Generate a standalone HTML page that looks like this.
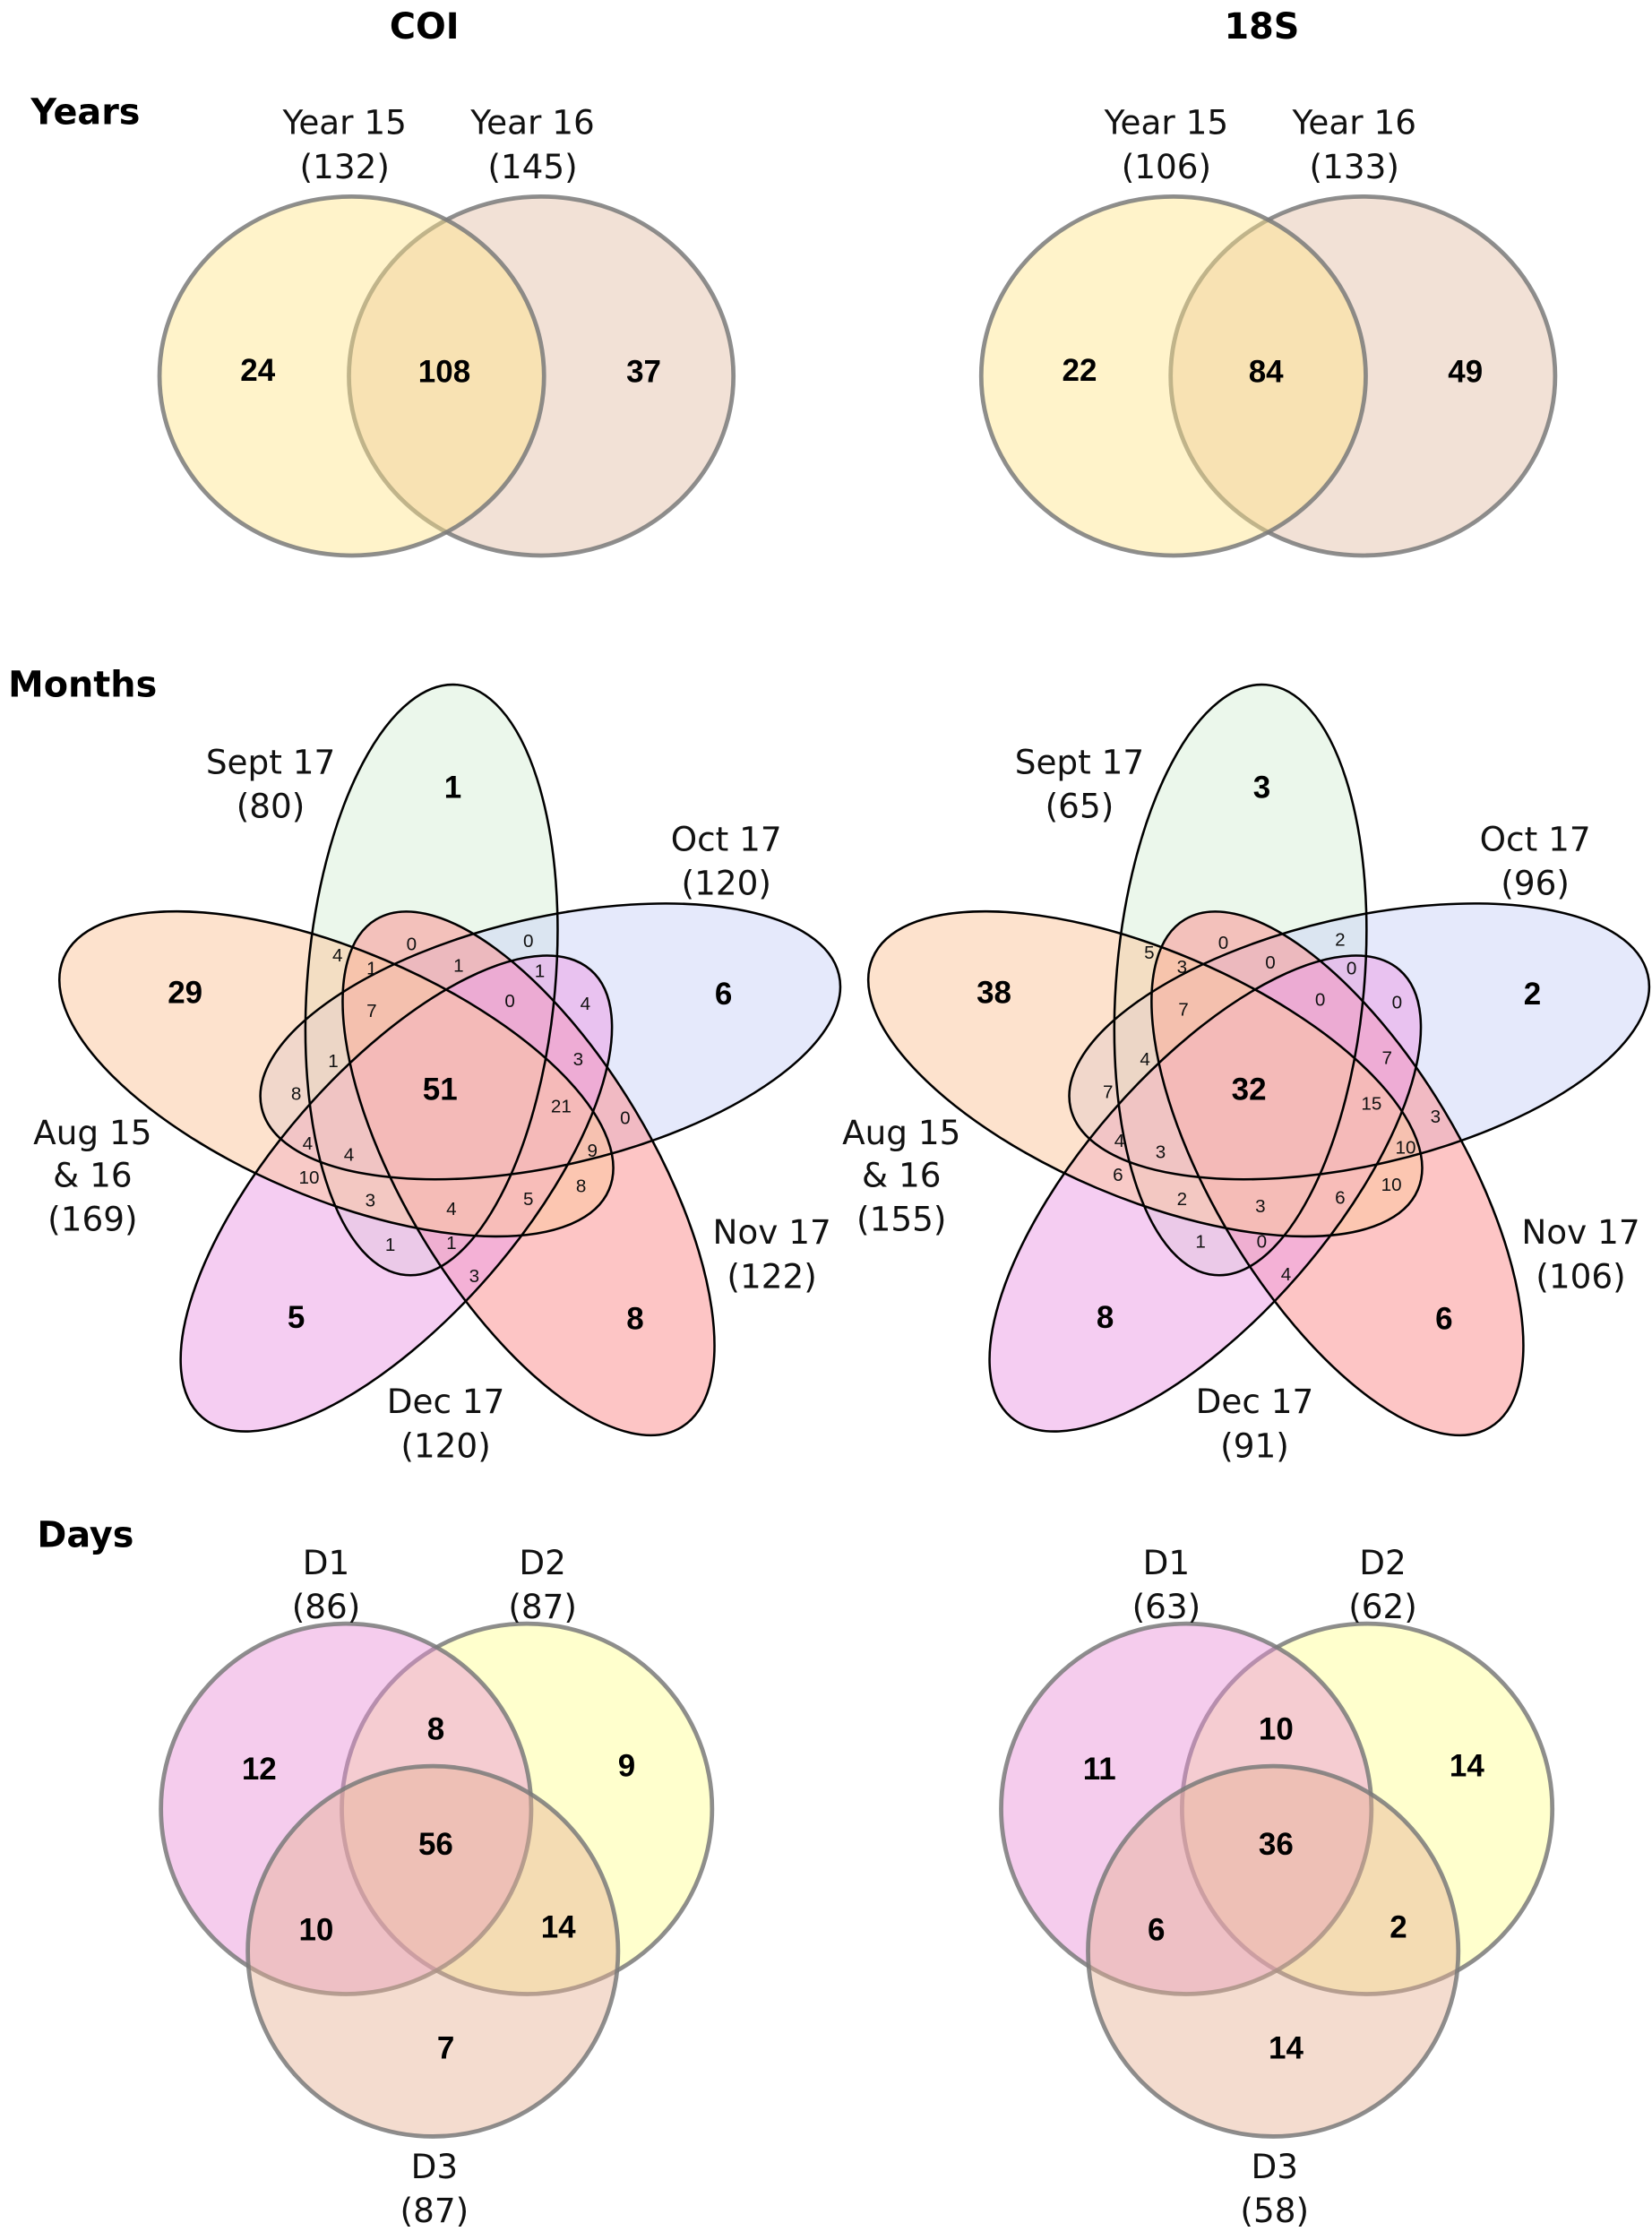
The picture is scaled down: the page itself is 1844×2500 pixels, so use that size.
<!DOCTYPE html>
<html><head><meta charset="utf-8"><style>
html,body{margin:0;padding:0;background:#fff}
svg{display:block}
.lab{font-family:"DejaVu Sans","Liberation Sans",sans-serif;font-size:23.5px;fill:#111}
.big{font-family:"Liberation Sans",sans-serif;font-weight:bold;font-size:22px;fill:#000}
.sm{font-family:"Liberation Sans",sans-serif;font-size:13px;fill:#111}
.title{font-family:"DejaVu Sans","Liberation Sans",sans-serif;font-weight:bold;font-size:25px;fill:#000}
</style></head><body>
<svg id="chart" width="1844" height="2500" viewBox="0 0 1160 1572.7" xmlns="http://www.w3.org/2000/svg">
<text class="title" x="298" y="27" text-anchor="middle">COI</text>
<text class="title" x="886" y="27" text-anchor="middle">18S</text>
<text class="title" x="60" y="87" text-anchor="middle">Years</text>
<text class="title" x="58" y="489" text-anchor="middle">Months</text>
<text class="title" x="60" y="1086" text-anchor="middle">Days</text>
<g id="layer"></g>
</svg>
<script>
// ---- data ----
const yearsCOI = [24, 108, 37];
const yearsCOITotals = [132, 145];
const years18S = [22, 84, 49];
const years18STotals = [106, 133];
const monthSets = ["Aug 15 & 16", "Sept 17", "Oct 17", "Nov 17", "Dec 17"];
const monthsCOITotals = [169, 80, 120, 122, 120];
const months18STotals = [155, 65, 96, 106, 91];
// outer unique regions: Sept, Aug, Oct, Dec, Nov
const monthsCOIOuter = [1, 29, 6, 5, 8];
const months18SOuter = [3, 38, 2, 8, 6];
const monthsCOICenter = [51];
const months18SCenter = [32];
const monthsCOIInner = [4,0,0,1,1,1,0,4,7,3,1,8,21,0,4,4,9,10,3,4,5,8,1,1,3];
const months18SInner = [5,0,2,3,0,0,0,0,7,7,4,7,15,3,4,3,10,6,2,3,6,10,1,0,4];
const daysCOI = [12, 8, 9, 56, 10, 14, 7];
const daysCOITotals = [86, 87, 87];
const days18S = [11, 10, 14, 36, 6, 2, 14];
const days18STotals = [63, 62, 58];

const NS="http://www.w3.org/2000/svg";
const layer=document.getElementById('layer');
function mk(tag,attrs,parent){const e=document.createElementNS(NS,tag);for(const k in attrs)e.setAttribute(k,attrs[k]);(parent||layer).appendChild(e);return e;}
function txt(cls,x,y,s,name,parent){const t=mk('text',{class:cls,x:x,y:y,'text-anchor':'middle','dominant-baseline':'central'},parent);t.textContent=s;


return t;}

// ---- Years ----
function years(dx,vals,tot,pfx){
  const g=mk('g',{transform:'translate('+dx+',0)'});
  
  
  const b=mk('ellipse',{cx:380,cy:264,rx:135,ry:126,fill:'#e3bca4','fill-opacity':0.45,stroke:'#7a7a7a','stroke-opacity':0.85,'stroke-width':3},g);
  
  
  const a=mk('ellipse',{cx:247,cy:264,rx:135,ry:126,fill:'#ffe48a','fill-opacity':0.45,stroke:'#7a7a7a','stroke-opacity':0.85,'stroke-width':3},g);
  
  
  txt('lab',242,86,'Year 15','year15-label',g);txt('lab',242,117,'('+tot[0]+')','year15-total',g);
  txt('lab',374,86,'Year 16','year16-label',g);txt('lab',374,117,'('+tot[1]+')','year16-total',g);
  txt('big',181,260,vals[0],'year15-only-count',g);txt('big',312,261,vals[1],'years-shared-count',g);txt('big',452,261,vals[2],'year16-only-count',g);
}
years(0,yearsCOI,yearsCOITotals,'coi');
years(577,years18S,years18STotals,'18s');

// ---- Months ----
const C=[315,767];
const ellColors=['#d8efd8','#cdd4f8','#fb8f8f','#eba0e6','#fcc7a0']; // Sept, Oct, Nov, Dec, Aug
const ellNames=['sept17-ellipse','oct17-ellipse','nov17-ellipse','dec17-ellipse','aug-ellipse'];
const innerPos=[[237,671],[289,663],[371,661],[261,680],[322,678],[379,682],[358,703],[411,705],[261,710],[406,744],[234,745],[208,768],[394,777],[439,785],[216,803],[245,811],[416,808],[217,827],[260,843],[317,849],[371,842],[408,833],[274,874],[317,873],[333,896]];
const innerPos18=[[807,669],[859,662],[941,660],[830,679],[892,676],[949,680],[927,702],[981,704],[831,709],[974,743],[804,744],[778,767],[963,775],[1008,784],[786,801],[815,809],[987,806],[785,825],[830,842],[885,847],[941,841],[977,832],[843,872],[886,872],[903,895]];
function months(dx,tot,outer,center,inner,ipos,pfx){
  const g=mk('g',{transform:'translate('+dx+',0)'});
  
  
  const ecx=C[0]-12, ecy=C[1]-79;
  for(let k=0;k<5;k++){
    const e=mk('ellipse',{cx:ecx,cy:ecy,rx:87,ry:208,fill:ellColors[k],'fill-opacity':0.52,stroke:'none',
      transform:'rotate('+(72*k)+' '+C[0]+' '+C[1]+') rotate(5 '+ecx+' '+ecy+')'},g);
    
    
  }
  for(let k=0;k<5;k++){
    const e=mk('ellipse',{cx:ecx,cy:ecy,rx:87,ry:208,fill:'none',stroke:'#000','stroke-width':1.6,
      transform:'rotate('+(72*k)+' '+C[0]+' '+C[1]+') rotate(5 '+ecx+' '+ecy+')'},g);
    
    
  }
  txt('lab',190,535,'Sept 17','sept17-label',g);txt('lab',190,566,'('+tot[1]+')','sept17-total',g);
  txt('lab',510,589,'Oct 17','oct17-label',g);txt('lab',510,620,'('+tot[2]+')','oct17-total',g);
  txt('lab',65,795,'Aug 15','aug-label',g);txt('lab',65,825,'& 16','aug-label-line2',g);txt('lab',65,856,'('+tot[0]+')','aug-total',g);
  txt('lab',542,865,'Nov 17','nov17-label',g);txt('lab',542,896,'('+tot[3]+')','nov17-total',g);
  txt('lab',313,984,'Dec 17','dec17-label',g);txt('lab',313,1015,'('+tot[4]+')','dec17-total',g);
  const op=[[318,553],[130,697],[508,698],[208,925],[446,926]];
  for(let i=0;i<5;i++) txt('big',op[i][0],op[i][1],outer[i],'unique-count',g);
  txt('big',309,765,center[0],'all-months-count',g);
  for(let i=0;i<inner.length;i++) txt('sm',ipos[i][0]-dx,ipos[i][1],inner[i],'overlap-count',g);
}
months(0,monthsCOITotals,monthsCOIOuter,monthsCOICenter,monthsCOIInner,innerPos,'coi');
months(568,months18STotals,months18SOuter,months18SCenter,months18SInner,innerPos18,'18s');

// ---- Days ----
function days(dx,vals,tot,pfx){
  const g=mk('g',{transform:'translate('+dx+',0)'});
  
  
  const circ=[[370,1270,'#ffff90','d2-circle'],[243,1270,'#e98ed8','d1-circle'],[304,1370,'#e6b294','d3-circle']];
  circ.forEach(c=>{const e=mk('circle',{cx:c[0],cy:c[1],r:130,fill:c[2],'fill-opacity':0.45,stroke:'#7a7a7a','stroke-opacity':0.85,'stroke-width':3},g);
    
    });
  txt('lab',229,1097,'D1','d1-label',g);txt('lab',229,1128,'('+tot[0]+')','d1-total',g);
  txt('lab',381,1097,'D2','d2-label',g);txt('lab',381,1128,'('+tot[1]+')','d2-total',g);
  txt('lab',305,1521,'D3','d3-label',g);txt('lab',305,1552,'('+tot[2]+')','d3-total',g);
  const p=[[182,1242],[306,1214],[440,1240],[306,1295],[222,1355],[392,1353],[313,1438]];
  for(let i=0;i<7;i++) txt('big',p[i][0],p[i][1],vals[i],'days-count',g);
}
days(0,daysCOI,daysCOITotals,'coi');
days(590,days18S,days18STotals,'18s');
</script>
</body></html>
